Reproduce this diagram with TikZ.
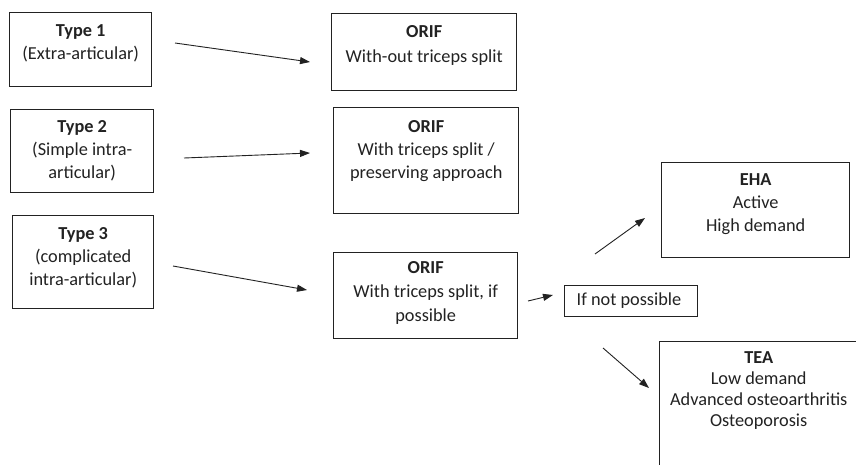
\documentclass[tikz,border=0pt]{standalone}
\usepackage{fontspec}
\setmainfont{Carlito}
\usetikzlibrary{arrows.meta}
\definecolor{ink}{HTML}{222222}
\newcommand\bxt[5]{\parbox[t][#2pt][t]{#1pt}{\centering\baselineskip=#4pt\relax\rule{0pt}{#3pt}#5\par}}
\tikzset{
  boxnode/.style={draw=ink, line width=1.4pt, inner sep=0pt, anchor=north west, text=ink},
  arr/.style={draw=ink, line width=0.9pt, -{Triangle[length=10pt,width=7pt]}}
}
\begin{document}
\begin{tikzpicture}[x=1pt,y=-1pt,font=\fontsize{18.3pt}{23pt}\selectfont]
\useasboundingbox (0,0) rectangle (856,464);
\fill[white] (0,0) rectangle (856,464);
% left column
\node[boxnode] (t1) at (9,12) {\bxt{142}{74}{24}{23}{\textbf{Type 1}\\(Extra-articular)}};
\node[boxnode] (t2) at (10,109) {\bxt{143}{83}{23}{23}{\textbf{Type 2}\\(Simple intra-\\articular)}};
\node[boxnode] (t3) at (12,215) {\bxt{141}{93}{24}{23}{\textbf{Type 3}\\(complicated\\intra-articular)}};
% middle column
\node[boxnode] (o1) at (331,13) {\bxt{185}{77}{24}{25}{\textbf{ORIF}\\With-out triceps split}};
\node[boxnode] (o2) at (333,107) {\bxt{185}{106}{25}{23}{\textbf{ORIF}\\With triceps split /\\preserving approach}};
\node[boxnode] (o3) at (333,252) {\bxt{184}{86}{21}{24}{\textbf{ORIF}\\With triceps split, if\\possible}};
% right side
\node[boxnode] (np) at (564,285) {\parbox[t][31pt][t]{133pt}{\rule{0pt}{20pt}\hspace*{12pt}If not possible}};
\node[boxnode] (eha) at (661,162) {\bxt{188}{95}{23}{23}{\textbf{EHA}\\Active\\High demand}};
\node[boxnode] (tea) at (659,341) {\bxt{198}{140}{22}{21}{\textbf{TEA}\\Low demand\\Advanced osteoarthritis\\Osteoporosis}};
% arrow ends
\coordinate (a1s) at (175,43);  \coordinate (a1e) at (310,62);
\coordinate (a2s) at (184,158); \coordinate (a2e) at (310,153);
\coordinate (a3s) at (173,266); \coordinate (a3e) at (307,290);
\coordinate (a4s) at (528,301); \coordinate (a4e) at (553,295);
\coordinate (a5s) at (595,254); \coordinate (a5e) at (645,218);
\coordinate (a6s) at (603,348); \coordinate (a6e) at (649,388);
\draw[arr] (a1s) -- (a1e);
\draw[arr] (a2s) -- (a2e);
\draw[arr] (a3s) -- (a3e);
\draw[arr] (a4s) -- (a4e);
\draw[arr] (a5s) -- (a5e);
\draw[arr] (a6s) -- (a6e);
\end{tikzpicture}
\end{document}
